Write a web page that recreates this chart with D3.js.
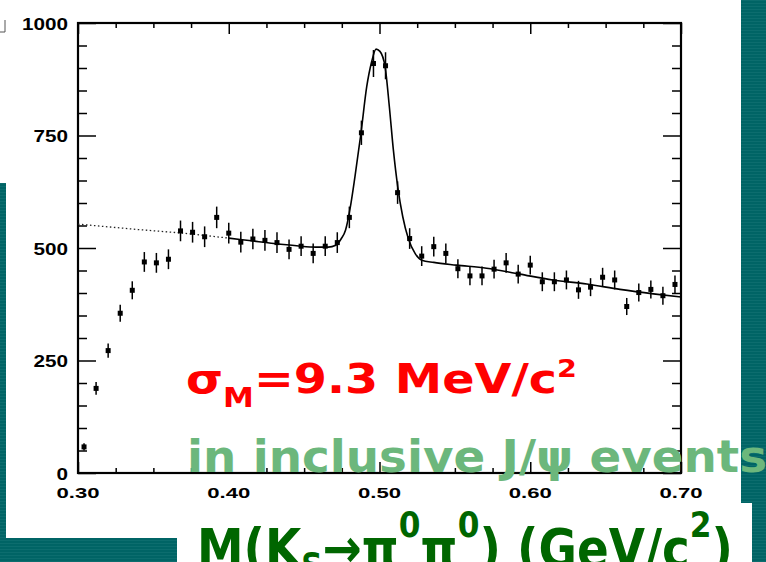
<!DOCTYPE html>
<html>
<head>
<meta charset="utf-8">
<script src="https://cdn.jsdelivr.net/npm/d3@7"></script>
<style>
  html, body { margin: 0; padding: 0; background: #fff; overflow: hidden; }
</style>
</head>
<body>
<script>
// bin centres (GeV/c^2) and entries per bin
const massBins = [0.304,0.312,0.320,0.328,0.336,0.344,0.352,0.360,0.368,0.376,
  0.384,0.392,0.400,0.408,0.416,0.424,0.432,0.440,0.448,0.456,
  0.464,0.472,0.480,0.488,0.496,0.504,0.512,0.520,0.528,0.536,
  0.544,0.552,0.560,0.568,0.576,0.584,0.592,0.600,0.608,0.616,
  0.624,0.632,0.640,0.648,0.656,0.664,0.672,0.680,0.688,0.696];
const counts = [58,188,272,355,406,469,467,475,538,535,
  525,568,533,513,520,517,512,497,504,488,
  504,512,568,756,910,905,623,521,482,503,
  488,454,438,438,453,467,442,462,425,425,
  429,407,413,435,429,370,401,408,394,419];
const errors = [8,14,16,19,20,22,22,22,23,23,
  23,24,23,23,23,23,23,22,22,22,
  22,23,24,27,30,30,25,23,22,22,
  22,21,21,21,21,22,21,21,21,21,
  21,20,20,21,21,19,20,20,20,20];

// fit curve
const fitMass = [0.400,0.415,0.430,0.445,0.458,0.466,0.471,0.4745,0.4775,0.4805,
  0.4837,0.4877,0.4915,0.4948,0.4977,0.5003,0.5037,0.5065,0.5092,0.5121,
  0.5154,0.5191,0.5236,0.528,0.536,0.551,0.571,0.593,0.615,0.6375,
  0.6595,0.6817,0.700];
const fitCounts = [522,516,510,505,502,502,506,520,540,588,
  658,755,858,914,942,937,903,815,718,636,
  570,521,488,473,468,462,455,442,429,420,
  408,398,391];
// background extrapolated below the fit range (dotted)
const extrapMass = [0.300,0.340,0.370,0.400];
const extrapCounts = [553,541,533,522];

const xMajorTicks = [0.3,0.4,0.5,0.6,0.7];
const xMinorTicks = [0.325,0.35,0.375,0.425,0.45,0.475,0.525,0.55,0.575,0.625,0.65,0.675];
const xTickLabels = ["0.30","0.40","0.50","0.60","0.70"];
const yMajorTicks = [0,250,500,750,1000];
const yMinorTicks = [50,100,150,200,300,350,400,450,550,600,650,700,800,850,900,950];
const yTickLabels = ["0","250","500","750","1000"];

const width = 766, height = 562;

const svg = d3.select("body").append("svg")
  .attr("width", width)
  .attr("height", height)
  .style("display", "block");

// striped teal slide background
const pat = svg.append("defs").append("pattern")
  .attr("id", "teal")
  .attr("patternUnits", "userSpaceOnUse")
  .attr("width", 4).attr("height", 3);
pat.append("rect").attr("width", 4).attr("height", 3).attr("fill", "#006465");
pat.append("rect").attr("width", 4).attr("height", 1).attr("fill", "#0c6d6e");

const tealBlocks = [[0,183,6,355],[0,538,177,24],[741,0,25,503],[752,503,14,59]];
svg.selectAll("rect.bg")
  .data(tealBlocks)
  .join("rect")
  .attr("class", "bg")
  .attr("x", d => d[0]).attr("y", d => d[1])
  .attr("width", d => d[2]).attr("height", d => d[3])
  .attr("fill", "url(#teal)");

// little corner mark at top left
svg.append("path")
  .attr("d", "M5,20V32H0")
  .attr("fill", "none")
  .attr("stroke", "#555")
  .attr("stroke-width", 1);

const x = d3.scaleLinear().domain([0.3, 0.7]).range([78, 681]);
const y = d3.scaleLinear().domain([0, 1000]).range([473, 23]);

// ticks on all four sides, pointing inwards
function tickGroup(axis, values, size, tx, ty) {
  svg.append("g")
    .attr("transform", `translate(${tx},${ty})`)
    .call(axis.tickValues(values).tickSize(size).tickSizeOuter(0).tickFormat(""))
    .call(g => g.select(".domain").remove())
    .call(g => g.selectAll("line").attr("stroke", "#000").attr("stroke-width", 1.5));
}
tickGroup(d3.axisBottom(x), xMajorTicks, 11, 0, y(1000));
tickGroup(d3.axisBottom(x), xMinorTicks, 5, 0, y(1000));
tickGroup(d3.axisTop(x), xMajorTicks, 11, 0, y(0));
tickGroup(d3.axisTop(x), xMinorTicks, 5, 0, y(0));
tickGroup(d3.axisRight(y), yMajorTicks, 18, x(0.3), 0);
tickGroup(d3.axisRight(y), yMinorTicks, 9, x(0.3), 0);
tickGroup(d3.axisLeft(y), yMajorTicks, 18, x(0.7), 0);
tickGroup(d3.axisLeft(y), yMinorTicks, 9, x(0.7), 0);

svg.append("rect")
  .attr("x", x(0.3)).attr("y", y(1000))
  .attr("width", x(0.7) - x(0.3)).attr("height", y(0) - y(1000))
  .attr("fill", "none")
  .attr("stroke", "#000")
  .attr("stroke-width", 2.2);

// tick labels (wide bold numerals)
svg.selectAll("text.ylab")
  .data(yMajorTicks)
  .join("text")
  .attr("class", "ylab")
  .attr("x", 68)
  .attr("y", d => y(d) + 6.5)
  .attr("text-anchor", "end")
  .attr("textLength", (d, i) => yTickLabels[i].length * 11.5)
  .attr("lengthAdjust", "spacingAndGlyphs")
  .style("font", "bold 16px 'Liberation Sans', Arial, sans-serif")
  .text((d, i) => yTickLabels[i]);

svg.selectAll("text.xlab")
  .data(xMajorTicks)
  .join("text")
  .attr("class", "xlab")
  .attr("x", d => x(d) - 21.5)
  .attr("y", 498)
  .attr("textLength", 43)
  .attr("lengthAdjust", "spacingAndGlyphs")
  .style("font", "bold 15px 'Liberation Sans', Arial, sans-serif")
  .text((d, i) => xTickLabels[i]);

// fit curves
svg.append("path")
  .datum(extrapMass.map((m, i) => [m, extrapCounts[i]]))
  .attr("fill", "none")
  .attr("stroke", "#222")
  .attr("stroke-width", 1.3)
  .attr("stroke-dasharray", "1.5,2.5")
  .attr("d", d3.line().x(d => x(d[0])).y(d => y(d[1])));

svg.append("path")
  .datum(fitMass.map((m, i) => [m, fitCounts[i]]))
  .attr("fill", "none")
  .attr("stroke", "#000")
  .attr("stroke-width", 1.6)
  .attr("d", d3.line().x(d => x(d[0])).y(d => y(d[1])).curve(d3.curveMonotoneX));

// data points with error bars
const pts = svg.append("g")
  .selectAll("g")
  .data(massBins.map((m, i) => ({ m, n: counts[i], e: errors[i] })))
  .join("g");
pts.append("line")
  .attr("x1", d => x(d.m)).attr("x2", d => x(d.m))
  .attr("y1", d => y(d.n - d.e)).attr("y2", d => y(d.n + d.e))
  .attr("stroke", "#000")
  .attr("stroke-width", 1.5);
pts.append("rect")
  .attr("x", d => x(d.m) - 2.5).attr("y", d => y(d.n) - 2.5)
  .attr("width", 5).attr("height", 5)
  .attr("fill", "#000");

// annotations
const handFont = "'Comic Sans MS', 'DejaVu Sans', sans-serif";

const red = svg.append("text")
  .attr("x", 186).attr("y", 393)
  .attr("fill", "#ff0000")
  .attr("textLength", 391)
  .attr("lengthAdjust", "spacingAndGlyphs")
  .style("font-family", handFont)
  .style("font-weight", "bold")
  .style("font-size", "40px");
red.append("tspan").text("σ");
red.append("tspan").attr("dy", 14).style("font-size", "26px").text("M");
red.append("tspan").attr("dy", -14).text("=9.3 MeV/c");
red.append("tspan").attr("dy", -16).style("font-size", "24px").text("2");

svg.append("text")
  .attr("x", 187).attr("y", 472)
  .attr("fill", "#6cb77c")
  .attr("textLength", 580)
  .attr("lengthAdjust", "spacingAndGlyphs")
  .style("font-family", handFont)
  .style("font-weight", "bold")
  .style("font-size", "44px")
  .text("in inclusive J/ψ events");

// white box holding the axis title
svg.append("rect")
  .attr("x", 177).attr("y", 503)
  .attr("width", 575).attr("height", 59)
  .attr("fill", "#fff");

const title = svg.append("text")
  .attr("x", 197).attr("y", 567)
  .attr("fill", "#006600")
  .attr("textLength", 536)
  .attr("lengthAdjust", "spacingAndGlyphs")
  .style("font-family", handFont)
  .style("font-weight", "bold")
  .style("font-size", "54px");
title.append("tspan").text("M(K");
title.append("tspan").attr("dy", 10).style("font-size", "34px").text("S");
title.append("tspan").attr("dy", -10).text("→π");
title.append("tspan").attr("dy", -30).style("font-size", "36px").text("0");
title.append("tspan").attr("dy", 30).text("π");
title.append("tspan").attr("dy", -30).style("font-size", "36px").text("0");
title.append("tspan").attr("dy", 30).text(") (GeV/c");
title.append("tspan").attr("dy", -30).style("font-size", "36px").text("2");
title.append("tspan").attr("dy", 30).text(")");
</script>
</body>
</html>
